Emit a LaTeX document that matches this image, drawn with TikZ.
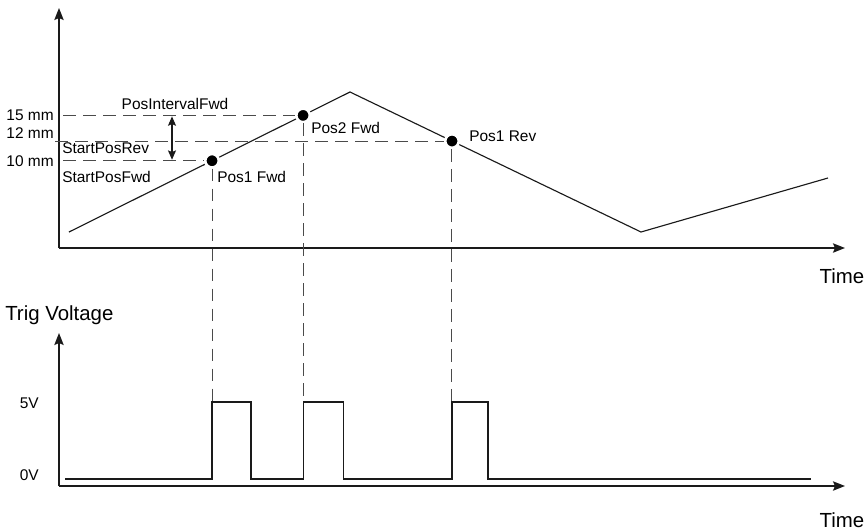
\documentclass[tikz,border=0pt]{standalone}
\usepackage{fontspec}
\setmainfont{Liberation Sans}
\usetikzlibrary{arrows.meta, calc}
\definecolor{AxisBlack}{HTML}{1A1A1A}
\definecolor{DashGray}{HTML}{4A4A4A}
\tikzset{
  axis/.style={draw=AxisBlack, line width=1.1pt, -{Stealth[length=9pt,width=7pt,inset=1.5pt]}},
  signal/.style={draw=AxisBlack, line width=0.85pt},
  guide/.style={draw=DashGray, line width=0.75pt, dash pattern=on 9.5pt off 5.5pt},
  dot/.style={circle, fill=black, draw=white, line width=1.9pt, minimum size=10.1pt, inner sep=0pt},
  lbl/.style={font=\fontsize{11.6}{13}\selectfont, inner sep=0pt},
  biglbl/.style={font=\fontsize{15.3}{18}\selectfont, inner sep=0pt},
}

\begin{document}
\begin{tikzpicture}[x=0.75pt, y=-0.75pt]
\useasboundingbox (0,0) rectangle (868,532);
\coordinate (o1) at (59,248);
\coordinate (y1) at (59,8);
\coordinate (x1) at (845,248);
\coordinate (o2) at (59,486);
\coordinate (y2) at (59,333);
\coordinate (x2) at (845,486);
\draw[axis] (o1) -- (y1);
\draw[axis] (o1) -- (x1);
\draw[axis] (o2) -- (y2);
\draw[axis] (o2) -- (x2);

\coordinate (start) at (69,232);
\coordinate (peak) at (350,92);
\coordinate (valley) at (641,232);
\coordinate (stop) at (828,178);
\draw[signal] (start) -- (peak) -- (valley) -- (stop);

\node[dot] (pos1fwd) at ($(start)!0.509!(peak)$) {};
\node[dot] (pos2fwd) at ($(start)!0.833!(peak)$) {};
\node[dot] (pos1rev) at ($(peak)!0.3505!(valley)$) {};

\coordinate (left15) at (63,0);
\coordinate (left12) at (55,0);
\coordinate (left10) at (63,0);
\coordinate (hi) at (0,402);
\coordinate (lo) at (0,479);
\draw[guide] (left15 |- pos2fwd) -- (pos2fwd);
\draw[guide] (left12 |- pos1rev) -- (pos1rev);
\draw[guide] (left10 |- pos1fwd) -- (pos1fwd);
\draw[guide] (pos1fwd) -- (pos1fwd |- hi);
\draw[guide] (pos2fwd) -- (pos2fwd |- hi);
\draw[guide] (pos1rev) -- (pos1rev |- hi);

\coordinate (gap) at (172,0);
\draw[signal, {Stealth[length=7pt,width=6pt,inset=1.2pt]}-{Stealth[length=7pt,width=6pt,inset=1.2pt]}] ($(gap |- pos2fwd)+(0,1)$) -- ($(gap |- pos1fwd)+(0,-1)$);

\coordinate (trig0) at (65,479);
\coordinate (trig1) at (811,479);
\draw[signal] (trig0) -- (pos1fwd |- lo) -- (pos1fwd |- hi) -- ++(39,0) |- (pos2fwd |- lo)
  -- (pos2fwd |- hi) -- ++(40,0) |- (pos1rev |- lo) -- (pos1rev |- hi) -- ++(36,0) |- (trig1);

\node[lbl, anchor=east] (mm15) at (54,115) {15 mm};
\node[lbl, anchor=east] (mm12) at (54,133) {12 mm};
\node[lbl, anchor=east] (mm10) at (54,161) {10 mm};
\node[lbl] (interval) at (175,104) {PosIntervalFwd};
\node[lbl, anchor=west] (startrev) at (62,148) {StartPosRev};
\node[lbl, anchor=west] (startfwd) at (62,177) {StartPosFwd};
\node[lbl, anchor=west] (lbl1fwd) at (217,177) {Pos1 Fwd};
\node[lbl, anchor=west] (lbl2fwd) at (311,128) {Pos2 Fwd};
\node[lbl, anchor=west] (lbl1rev) at (469,136) {Pos1 Rev};
\node[lbl, anchor=east] (volt5) at (39,403) {5V};
\node[lbl, anchor=east] (volt0) at (39,475) {0V};
\node[biglbl] (time1) at (842,276) {Time};
\node[biglbl] (time2) at (842,520) {Time};
\node[biglbl, anchor=west] (trig) at (5,315) {Trig Voltage};
\end{tikzpicture}
\end{document}
